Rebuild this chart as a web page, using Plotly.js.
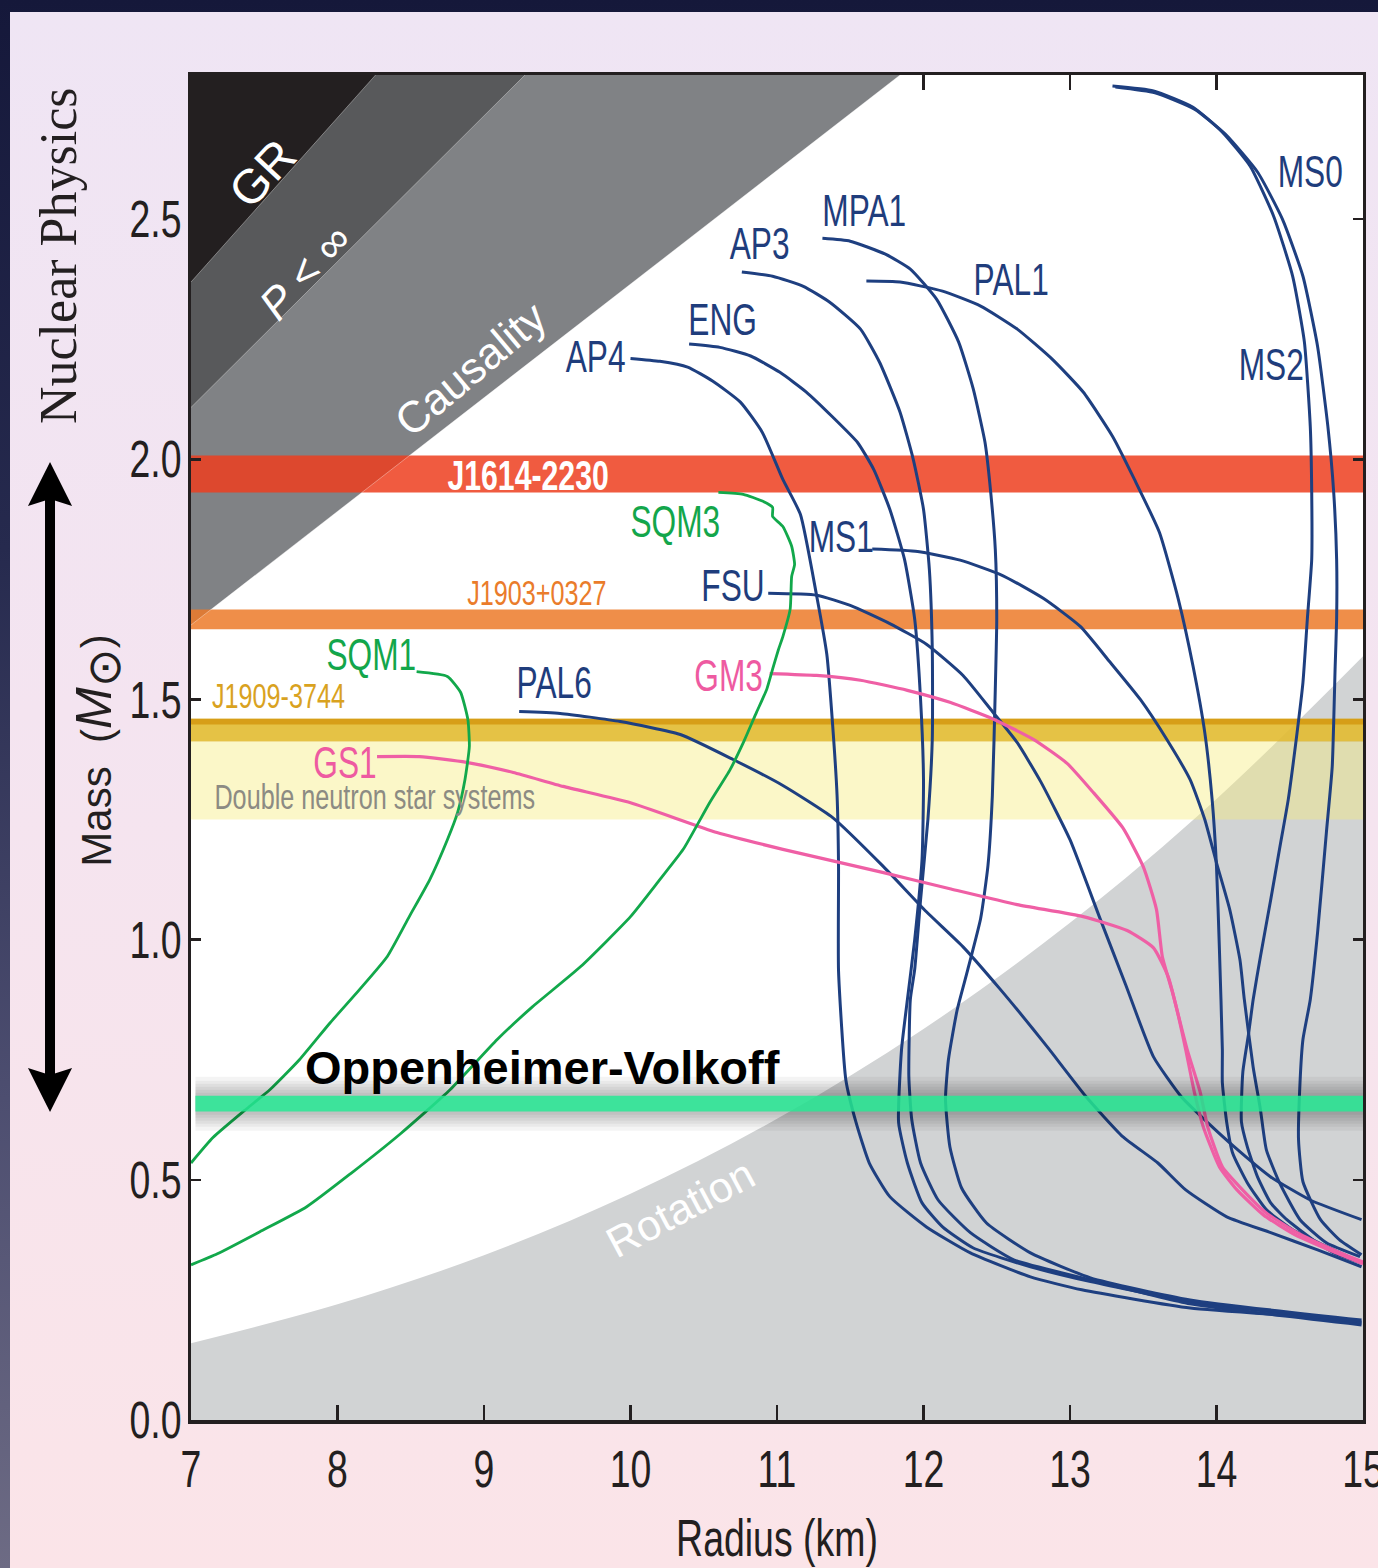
<!DOCTYPE html>
<html><head><meta charset="utf-8">
<script src="https://cdn.plot.ly/plotly-3.0.1.min.js"></script>
<style>
html,body{margin:0;padding:0;}
body{width:1378px;height:1568px;position:relative;overflow:hidden;background:linear-gradient(to bottom,#15183a 0%,#262a4e 35%,#4d4e70 70%,#6d6b84 100%);}
#panel{position:absolute;left:10px;top:12px;width:1368px;height:1556px;background:linear-gradient(to bottom,#efe5f4 0%,#f4e4f0 45%,#fbe4e8 100%);}
#chart{position:absolute;left:0;top:0;width:1378px;height:1568px;}
</style></head><body>
<div id="panel"></div><div id="chart"></div>
<script>
// ---------- axis ----------
const xMin = 7, xMax = 15, yMin = 0, yMax = 2.8;

// ---------- excluded regions (boundary lines, radius km / mass Msun) ----------
const grR = [7, 8.26],  grM = [2.369, 2.8];
const pR = [7, 9.28],   pM = [2.108, 2.8];
const causR = [7, 11.84], causM = [1.655, 2.8];
const rotR = [7, 8, 9, 10, 11, 12, 13, 14, 15];
const rotM = [0.160, 0.241, 0.343, 0.471, 0.627, 0.814, 1.035, 1.293, 1.590];

// ---------- measured mass bands ----------
const j1614 = [1.931, 2.008];
const j1903 = [1.646, 1.6875];
const j1909 = [1.4125, 1.460];
const j1909Edge = [1.448, 1.460];
const dns = [1.250, 1.4125];
const ovBand = [0.642, 0.675];
const ovR = [7.03, 15.0];

// ---------- mass-radius curves ----------
const ap4R = [10.00,10.20,10.39,10.56,10.75,10.90,11.04,11.16,11.27,11.34,11.38,11.41,11.42,11.42,11.47,11.54,11.63,11.77,12.02,12.32,12.73,13.08,13.82,14.69,14.99];
const ap4M = [2.210,2.204,2.192,2.163,2.119,2.056,1.958,1.885,1.717,1.594,1.446,1.300,1.154,0.935,0.708,0.619,0.535,0.465,0.402,0.348,0.298,0.271,0.233,0.213,0.202];

const engR = [10.40,10.61,10.82,11.02,11.20,11.38,11.55,11.66,11.77,11.87,11.94,11.98,12.00,11.99,11.94,11.89,11.85,11.83,11.89,11.99,12.13,12.34,12.73,13.14,13.82,14.99];
const engM = [2.240,2.233,2.215,2.181,2.140,2.088,2.035,1.979,1.896,1.792,1.667,1.500,1.333,1.167,1.000,0.875,0.771,0.619,0.535,0.452,0.402,0.358,0.319,0.288,0.246,0.204];

const ap3R = [10.76,10.97,11.18,11.36,11.57,11.70,11.84,11.93,12.00,12.04,12.06,12.06,12.03,11.98,11.94,11.91,11.90,11.92,11.98,12.10,12.32,12.62,13.14,13.82,14.99];
const ap3M = [2.390,2.381,2.360,2.327,2.271,2.202,2.098,2.000,1.896,1.771,1.604,1.417,1.250,1.083,0.938,0.875,0.715,0.625,0.535,0.458,0.390,0.333,0.292,0.242,0.198];

const mpa1R = [11.31,11.50,11.74,11.91,12.09,12.24,12.34,12.42,12.45,12.49,12.50,12.49,12.47,12.44,12.39,12.30,12.23,12.17,12.15,12.18,12.26,12.43,12.73,13.14,13.82,14.99];
const mpa1M = [2.460,2.454,2.427,2.396,2.333,2.244,2.146,2.035,1.958,1.813,1.667,1.521,1.300,1.154,1.044,0.935,0.854,0.750,0.667,0.569,0.483,0.410,0.348,0.296,0.250,0.208];

const pal6R = [9.24,9.52,9.93,10.34,10.70,11.04,11.38,11.72,12.02,12.27,12.52,12.75,12.86,13.11,13.36,13.60,13.79,14.07,14.37,14.69,14.99];
const pal6M = [1.475,1.471,1.454,1.427,1.375,1.321,1.254,1.154,1.058,0.985,0.898,0.813,0.771,0.673,0.590,0.535,0.479,0.423,0.390,0.354,0.319];

const fsuR = [10.94,11.27,11.50,11.77,12.02,12.27,12.47,12.64,12.80,13.00,13.20,13.38,13.57,13.76,13.94,14.12,14.37,14.64,14.99];
const fsuM = [1.721,1.717,1.696,1.658,1.615,1.550,1.475,1.410,1.329,1.208,1.048,0.906,0.756,0.673,0.619,0.569,0.506,0.458,0.417];

const ms1R = [11.65,11.96,12.25,12.54,12.82,13.07,13.27,13.48,13.66,13.82,13.92,14.00,14.09,14.16,14.19,14.25,14.30,14.34,14.43,14.57,14.75,14.98];
const ms1M = [1.813,1.808,1.790,1.758,1.710,1.652,1.579,1.500,1.417,1.333,1.250,1.160,1.063,0.958,0.875,0.735,0.646,0.563,0.494,0.417,0.369,0.340];

const pal1R = [11.61,11.84,12.13,12.39,12.64,12.88,13.09,13.29,13.44,13.61,13.74,13.84,13.92,13.97,14.00,14.02,14.04,14.04,14.07,14.11,14.21,14.34,14.52,14.80,14.99];
const pal1M = [2.371,2.369,2.350,2.319,2.271,2.208,2.140,2.048,1.958,1.848,1.708,1.569,1.431,1.292,1.152,0.979,0.771,0.702,0.619,0.556,0.494,0.438,0.396,0.354,0.327];

const ms2R = [13.29,13.57,13.84,14.04,14.23,14.39,14.52,14.60,14.64,14.65,14.65,14.62,14.59,14.55,14.49,14.43,14.37,14.30,14.25,14.22,14.18,14.17,14.21,14.28,14.37,14.48,14.66,14.80,14.99];
const ms2M = [2.777,2.767,2.733,2.681,2.610,2.506,2.381,2.244,2.069,1.931,1.792,1.667,1.535,1.431,1.292,1.188,1.083,0.965,0.875,0.806,0.725,0.621,0.569,0.506,0.452,0.417,0.375,0.348,0.327];

const ms0R = [13.31,13.58,13.85,14.06,14.28,14.45,14.59,14.69,14.76,14.80,14.82,14.82,14.81,14.79,14.75,14.69,14.64,14.59,14.57,14.56,14.59,14.71,14.84,14.99];
const ms0M = [2.775,2.763,2.729,2.677,2.598,2.500,2.381,2.235,2.069,1.931,1.792,1.667,1.569,1.360,1.223,1.015,0.875,0.792,0.702,0.583,0.496,0.417,0.375,0.344];

const gm3R = [10.95,11.27,11.57,11.89,12.18,12.47,12.75,12.98,13.16,13.36,13.50,13.59,13.63,13.70,13.80,13.89,13.94,14.04,14.16,14.34,14.55,14.80,15.00];
const gm3M = [1.554,1.550,1.540,1.519,1.494,1.460,1.417,1.367,1.306,1.233,1.152,1.063,0.965,0.890,0.771,0.681,0.610,0.527,0.485,0.431,0.390,0.354,0.329];

const gs1R = [8.27,8.56,8.88,9.20,9.54,10.00,10.59,11.04,11.72,12.18,12.64,13.09,13.39,13.57,13.67,13.73,13.79,13.85,13.91,14.02,14.14,14.32,14.54,14.80,15.00];
const gs1M = [1.381,1.381,1.369,1.348,1.319,1.285,1.223,1.188,1.140,1.106,1.073,1.048,1.019,0.983,0.923,0.854,0.771,0.681,0.610,0.527,0.479,0.427,0.385,0.350,0.325];

const sqm1R = [8.54,8.75,8.84,8.89,8.90,8.87,8.82,8.75,8.63,8.49,8.34,8.15,7.95,7.74,7.54,7.38,7.15,7.00];
const sqm1M = [1.558,1.548,1.515,1.458,1.402,1.333,1.265,1.208,1.125,1.048,0.965,0.896,0.827,0.750,0.688,0.648,0.588,0.535];

const sqm3R = [10.60,10.77,10.90,10.97,10.97,11.04,11.10,11.12,11.10,11.09,11.04,11.01,10.97,10.93,10.86,10.77,10.68,10.54,10.36,10.20,10.00,9.66,9.33,9.09,8.77,8.43,8.09,7.79,7.47,7.18,7.00];
const sqm3M = [1.931,1.927,1.913,1.900,1.881,1.860,1.819,1.781,1.756,1.688,1.631,1.604,1.563,1.521,1.473,1.410,1.354,1.285,1.188,1.125,1.048,0.944,0.860,0.792,0.688,0.596,0.513,0.444,0.392,0.346,0.323];

// ---------- labels ----------
const eosNames  = ['MS0','MS2','PAL1','MPA1','AP3','ENG','AP4','MS1','FSU','PAL6','GM3','GS1','SQM1','SQM3'];
const eosLabelR = [14.64,14.37,12.60,11.60,10.88,10.63,9.76,11.44,10.70,9.48,10.67,8.05,8.23,10.31];
const eosLabelM = [2.600,2.198,2.375,2.517,2.450,2.290,2.213,1.840,1.738,1.535,1.550,1.369,1.594,1.871];
const eosGroup  = ['n','n','n','n','n','n','n','n','n','n','p','p','g','g'];

const pulsarNames = ['J1614-2230','J1903+0327','J1909-3744','Double neutron star systems'];
const pulsarR = [9.30, 9.36, 7.60, 8.25];
const pulsarM = [1.967, 1.723, 1.508, 1.298];

const regionNames = ['GR','<i>P</i> < ∞','Causality','Rotation'];
const regionR = [7.49, 7.78, 8.91, 10.34];
const regionM = [2.594, 2.390, 2.188, 0.442];
const regionAngle = [-47, -47, -40, -28];
const regionSize = [48, 44, 44, 43];

// ---------- styles ----------
const navy = '#1e3f80', green = '#12a84b', pink = '#ef5fa5';
const ink = '#231f20';
const condensed = 'Liberation Sans, Arial, Helvetica, sans-serif';

function region(xs, ys, color) {
  return {x: xs, y: ys, type: 'scatter', mode: 'lines', fill: 'toself', fillcolor: color,
          line: {width: 0, color: 'rgba(0,0,0,0)'}, hoverinfo: 'skip', showlegend: false};
}
function band(b, color) {
  return region([xMin, xMax, xMax, xMin], [b[0], b[0], b[1], b[1]], color);
}
function curve(R, M, color, width) {
  return {x: R, y: M, type: 'scatter', mode: 'lines', line: {color: color, width: width, shape: 'spline', smoothing: 0.5},
          hoverinfo: 'skip', showlegend: false};
}
function edge(R, M) {
  return {x: R, y: M, xaxis: 'x2', type: 'scatter', mode: 'lines', line: {color: 'rgba(255,255,255,0.35)', width: 1},
          hoverinfo: 'skip', showlegend: false};
}

const traces = [];
traces.push({x: rotR, y: rotM, type: 'scatter', mode: 'lines', fill: 'tozeroy', fillcolor: '#d1d3d4',
             line: {width: 0, color: 'rgba(0,0,0,0)', shape: 'spline', smoothing: 1}, hoverinfo: 'skip', showlegend: false});
traces.push(region([causR[0], causR[1], causR[0]], [causM[0], causM[1], causM[1]], '#808285'));
traces.push(region([pR[0], pR[1], pR[0]], [pM[0], pM[1], pM[1]], '#58595b'));
traces.push(region([grR[0], grR[1], grR[0]], [grM[0], grM[1], grM[1]], '#231f20'));

traces.push(band(dns, 'rgba(246,236,122,0.41)'));
traces.push(band(j1909, 'rgba(226,187,49,0.9)'));
traces.push(band(j1909Edge, 'rgba(213,154,19,0.9)'));
traces.push(band(j1903, 'rgba(236,122,41,0.85)'));
traces.push(band(j1614, 'rgba(237,62,31,0.85)'));

[[ap4R,ap4M],[engR,engM],[ap3R,ap3M],[mpa1R,mpa1M],[pal6R,pal6M],[fsuR,fsuM],[ms1R,ms1M],
 [pal1R,pal1M],[ms2R,ms2M],[ms0R,ms0M]].forEach(c => traces.push(curve(c[0], c[1], navy, 3)));
traces.push(curve(gm3R, gm3M, pink, 3.2), curve(gs1R, gs1M, pink, 3.2));
traces.push(curve(sqm1R, sqm1M, green, 2.8), curve(sqm3R, sqm3M, green, 2.8));

// Oppenheimer-Volkoff bar with soft shadow
const ovMid = (ovBand[0] + ovBand[1]) / 2;
[54, 46, 40, 34, 28, 22].forEach(w => traces.push({x: ovR, y: [ovMid, ovMid], type: 'scatter', mode: 'lines',
  line: {color: 'rgba(0,0,0,0.045)', width: w}, hoverinfo: 'skip', showlegend: false}));
traces.push(region([ovR[0], ovR[1], ovR[1], ovR[0]], [ovBand[0], ovBand[0], ovBand[1], ovBand[1]], 'rgba(38,233,148,0.85)'));

// faint separators along region boundaries (on the top axis, same scale)
traces.push(edge(causR, causM), edge(pR, pM), edge(grR, grM));

// ---------- annotations ----------
const annotations = [];
const squeezeFlags = [];
const groupColor = {n: '#1f3d7c', p: '#ee5aa1', g: '#13a64b'};
eosNames.forEach((t, i) => {
  annotations.push({x: eosLabelR[i], y: eosLabelM[i], xref: 'x', yref: 'y', text: t, showarrow: false,
    xanchor: 'center', yanchor: 'middle', font: {family: condensed, size: 44, color: groupColor[eosGroup[i]]}});
  squeezeFlags.push(true);
});
const pulsarFont = [
  {family: condensed, size: 42, color: '#ffffff', weight: 700},
  {family: condensed, size: 35, color: '#ea7c2b'},
  {family: condensed, size: 35, color: '#d9a21f'},
  {family: condensed, size: 35, color: '#8c8b83'}
];
pulsarNames.forEach((t, i) => {
  annotations.push({x: pulsarR[i], y: pulsarM[i], xref: 'x', yref: 'y', text: t, showarrow: false,
    xanchor: 'center', yanchor: 'middle', font: pulsarFont[i]});
  squeezeFlags.push(true);
});
regionNames.forEach((t, i) => {
  annotations.push({x: regionR[i], y: regionM[i], xref: 'x', yref: 'y', text: t, showarrow: false,
    textangle: regionAngle[i], xanchor: 'center', yanchor: 'middle',
    font: {family: 'Liberation Sans, Arial, sans-serif', size: regionSize[i], color: '#ffffff'}});
  squeezeFlags.push(false);
});
annotations.push({x: 9.40, y: 0.733, xref: 'x', yref: 'y', text: 'Oppenheimer-Volkoff', showarrow: false,
  xanchor: 'center', yanchor: 'middle', font: {family: 'Liberation Sans, Arial, sans-serif', size: 47, color: '#000000', weight: 700}});
squeezeFlags.push(false);
annotations.push({x: -0.1135, y: 0.8654, xref: 'paper', yref: 'paper', text: 'Nuclear Physics', showarrow: false,
  textangle: -90, xanchor: 'center', yanchor: 'middle', font: {family: 'Liberation Serif, Times New Roman, serif', size: 52, color: ink}});
squeezeFlags.push(false);
// y-axis title
annotations.push({x: -0.0795, y: 0.4975, xref: 'paper', yref: 'paper',
  text: 'Mass\u00a0 (<span style="font-size:50px"><i>M</i></span><sub><span style="font-size:46px">⊙</span></sub>)',
  showarrow: false, textangle: -90, xanchor: 'center', yanchor: 'middle',
  font: {family: 'Liberation Sans, Arial, sans-serif', size: 42, color: ink}});
squeezeFlags.push(false);

// double-headed arrow beside the mass axis (paper coordinates, decoration)
const ax0 = -0.1203, hw = 0.0188;
const shapes = [
  {type: 'line', xref: 'paper', yref: 'paper', x0: ax0, x1: ax0, y0: 0.6877, y1: 0.2528, line: {color: '#000000', width: 10}},
  {type: 'path', xref: 'paper', yref: 'paper', fillcolor: '#000000', line: {width: 0},
   path: 'M' + ax0 + ',0.7123 L' + (ax0 + hw) + ',0.6796 L' + ax0 + ',0.6848 L' + (ax0 - hw) + ',0.6796 Z'},
  {type: 'path', xref: 'paper', yref: 'paper', fillcolor: '#000000', line: {width: 0},
   path: 'M' + ax0 + ',0.2290 L' + (ax0 + hw) + ',0.2617 L' + ax0 + ',0.2565 L' + (ax0 - hw) + ',0.2617 Z'}
];

const layout = {
  width: 1378, height: 1568,
  margin: {l: 191, r: 15, t: 75, b: 148, pad: 0},
  paper_bgcolor: 'rgba(0,0,0,0)', plot_bgcolor: '#ffffff',
  showlegend: false,
  xaxis: {range: [xMin, xMax], tick0: 7, dtick: 1, ticks: 'inside', ticklen: 15, tickwidth: 2.5, tickcolor: ink,
    showline: true, linewidth: 4, linecolor: ink, mirror: false, showgrid: false, zeroline: false,
    tickfont: {family: condensed, size: 52, color: ink}, ticklabelstandoff: 1, ticklabeloverflow: 'allow',
    automargin: false, fixedrange: true,
    title: {text: 'Radius (km)', font: {family: condensed, size: 52, color: ink}, standoff: 23}},
  xaxis2: {range: [xMin, xMax], overlaying: 'x', side: 'top', anchor: 'y', tick0: 7, dtick: 1, ticks: 'inside', ticklen: 15,
    tickwidth: 2.5, tickcolor: ink, showline: true, linewidth: 3.5, linecolor: ink, showticklabels: false,
    showgrid: false, zeroline: false, layer: 'below traces', automargin: false, fixedrange: true},
  yaxis: {range: [yMin, yMax], tick0: 0, dtick: 0.5, tickformat: '.1f', ticks: 'inside', ticklen: 10, tickwidth: 2.5, tickcolor: ink,
    showline: true, linewidth: 3, linecolor: ink, mirror: 'ticks', showgrid: false, zeroline: false,
    tickfont: {family: condensed, size: 52, color: ink}, ticklabelstandoff: -4, ticklabeloverflow: 'allow',
    automargin: false, fixedrange: true},
  annotations: annotations,
  shapes: shapes
};

Plotly.newPlot('chart', traces, layout, {staticPlot: true, displayModeBar: false}).then(gd => {
  const s = 0.72;
  const sq = el => {
    const bb = el.getBBox();
    const ta = el.getAttribute('text-anchor') || 'start';
    const cx = ta === 'end' ? bb.x + bb.width : (ta === 'middle' ? bb.x + bb.width / 2 : bb.x);
    const t = el.getAttribute('transform') || '';
    el.setAttribute('transform', (t + ' translate(' + cx + ',0) scale(' + s + ',1) translate(' + (-cx) + ',0)').trim());
  };
  gd.querySelectorAll('.xtick text, .ytick text, .g-xtitle text').forEach(sq);
  squeezeFlags.forEach((f, i) => {
    if (f) gd.querySelectorAll('.annotation[data-index="' + i + '"] text').forEach(sq);
  });
});
</script></body></html>
